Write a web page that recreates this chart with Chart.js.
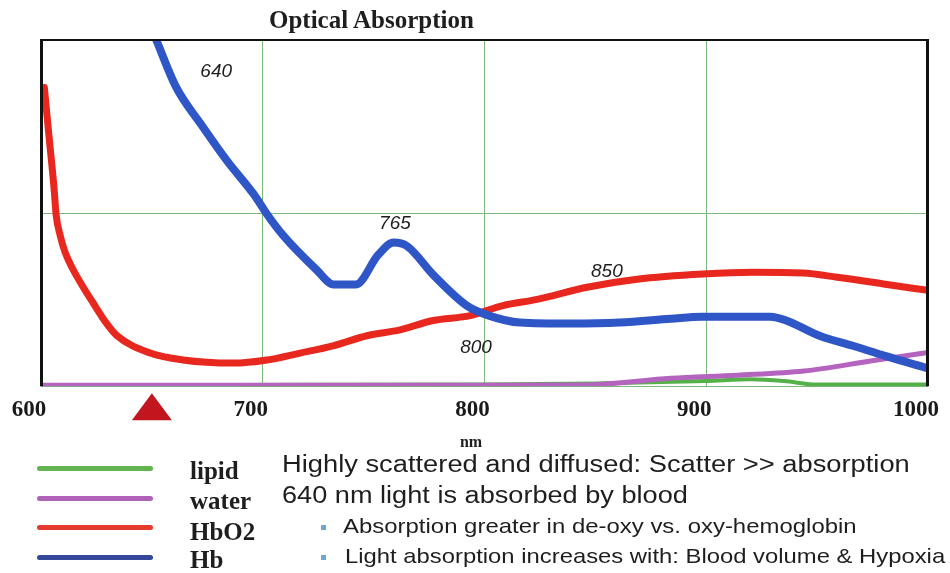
<!DOCTYPE html>
<html>
<head>
<meta charset="utf-8">
<script src="https://cdn.jsdelivr.net/npm/chart.js@4.4.1/dist/chart.umd.min.js"></script>
<style>
  html, body { margin: 0; padding: 0; background: #fff; }
  #wrap { position: relative; width: 950px; height: 573px; overflow: hidden; }
  #absChart { position: absolute; left: 0; top: 0; }
  .txt { position: absolute; white-space: nowrap; color: #1e1e1e; transform-origin: 0 0; }
  .serif { font-family: "Liberation Serif", "Times New Roman", serif; font-weight: bold; }
  .sans { font-family: "Liberation Sans", Arial, sans-serif; }
  .key { position: absolute; left: 37px; width: 116px; height: 5px; border-radius: 3px; }
  .dot { position: absolute; left: 321px; width: 5px; height: 5px; background: #6ea6cf; }
</style>
</head>
<body>
<div id="wrap">
  <canvas id="absChart" width="950" height="573"></canvas>

  <div class="txt serif" style="left:269px; top:7px; font-size:25px; line-height:25px;">Optical Absorption</div>
  <div class="txt serif" style="left:456px; top:434px; width:30px; text-align:center; font-size:16px; line-height:16px;">nm</div>

  <div class="key" style="top:466px; background:#62b451;"></div>
  <div class="key" style="top:496px; background:#b062b8;"></div>
  <div class="key" style="top:525px; background:#e53a2e;"></div>
  <div class="key" style="top:555px; background:#33489b;"></div>
  <div class="txt serif" style="left:190px; top:458px; font-size:25px; line-height:25px;">lipid</div>
  <div class="txt serif" style="left:190px; top:488px; font-size:25px; line-height:25px;">water</div>
  <div class="txt serif" style="left:190px; top:519px; font-size:25px; line-height:25px;">HbO2</div>
  <div class="txt serif" style="left:190px; top:547px; font-size:25px; line-height:25px;">Hb</div>

  <div class="txt sans" style="left:282px; top:452.5px; font-size:23px; line-height:23px; transform:scaleX(1.187);">Highly scattered and diffused: Scatter &gt;&gt; absorption</div>
  <div class="txt sans" style="left:282px; top:483.5px; font-size:23px; line-height:23px; transform:scaleX(1.18);">640 nm light is absorbed by blood</div>
  <div class="dot" style="top:525px;"></div>
  <div class="dot" style="top:555px;"></div>
  <div class="txt sans" style="left:343px; top:515.2px; font-size:21px; line-height:21px; transform:scaleX(1.14);">Absorption greater in de-oxy vs. oxy-hemoglobin</div>
  <div class="txt sans" style="left:345px; top:545.2px; font-size:21px; line-height:21px; transform:scaleX(1.135);">Light absorption increases with: Blood volume &amp; Hypoxia</div>
</div>

<script>
  // x axis ticks (nm)
  const tickNm = [600, 700, 800, 900, 1000];

  // Hb (deoxy) - blue
  const hbNm  = [645, 652, 661, 672, 684, 696, 702, 709, 724, 732, 742, 752, 759, 765, 777, 792, 802, 816, 839, 861, 884, 898, 929, 936, 951, 966, 981, 1000];
  const hbAbs = [111, 100, 86.3, 75.8, 65.0, 55.4, 49.6, 43.7, 33.8, 29.4, 29.4, 37.9, 41.5, 40.5, 32.1, 23.3, 20.4, 18.4, 18.1, 18.4, 19.5, 20.1, 20.1, 19.0, 14.6, 11.7, 8.7, 5.2];

  // HbO2 - red
  const hbo2Nm  = [601.5, 603.6, 605.9, 606.8, 608.6, 610.8, 614.4, 618.5, 623.4, 629.3, 634.3, 649.2, 664.0, 686.6, 701.9, 716.8, 731.7, 747.0, 761.9, 776.8, 793.5, 808.3, 823.7, 846.2, 868.8, 898.5, 921.1, 943.6, 959.0, 981.5, 1000];
  const hbo2Abs = [86.3, 72.3, 57.1, 49.6, 43.7, 38.8, 33.8, 29.2, 24.2, 18.4, 14.6, 9.6, 7.6, 6.7, 7.6, 9.6, 11.7, 14.6, 16.3, 19.0, 20.4, 23.3, 25.1, 28.6, 30.9, 32.4, 32.9, 32.7, 31.5, 29.4, 27.7];

  // water - magenta
  const waterNm  = [600, 700, 800, 846, 884, 914, 944, 974, 1000];
  const waterAbs = [0.3, 0.3, 0.3, 0.4, 2.3, 3.2, 4.4, 7.3, 9.8];

  // lipid - green
  const lipidNm  = [690, 800, 850, 900, 920, 935, 950, 1000];
  const lipidAbs = [0.4, 0.5, 0.8, 1.5, 2.0, 1.5, 0.5, 0.5];

  // peak labels
  const peakText = ['640', '765', '850', '800'];
  const peakNm   = [679, 759.6, 855.2, 796.2];
  const peakAbs  = [90.7, 46.9, 33.2, 11.1];

  // source marker
  const markerNm = 650;

  const toPoints = (xs, ys) => xs.map((x, i) => ({ x: x, y: ys[i] }));

  const framePlugin = {
    id: 'frame',
    afterDatasetsDraw(chart) {
      const { ctx, chartArea: a, scales } = chart;
      ctx.save();
      // chart border
      ctx.strokeStyle = '#111';
      ctx.lineWidth = 2;
      ctx.beginPath();
      ctx.moveTo(a.left, a.top);
      ctx.lineTo(a.right, a.top);
      ctx.stroke();
      ctx.lineWidth = 3;
      ctx.beginPath();
      ctx.moveTo(a.left + 0.5, a.top - 1);
      ctx.lineTo(a.left + 0.5, a.bottom);
      ctx.moveTo(a.right - 0.5, a.top - 1);
      ctx.lineTo(a.right - 0.5, a.bottom);
      ctx.stroke();

      // peak wavelength labels
      ctx.fillStyle = '#1e1e1e';
      ctx.font = 'italic 19px "Liberation Sans", Arial, sans-serif';
      ctx.textAlign = 'center';
      ctx.textBaseline = 'middle';
      peakText.forEach((t, i) => {
        ctx.fillText(t, scales.x.getPixelForValue(peakNm[i]), scales.y.getPixelForValue(peakAbs[i]));
      });

      // red marker under the axis
      const mx = scales.x.getPixelForValue(markerNm);
      ctx.fillStyle = '#c1161d';
      ctx.beginPath();
      ctx.moveTo(mx, a.bottom + 7);
      ctx.lineTo(mx + 20, a.bottom + 34);
      ctx.lineTo(mx - 20, a.bottom + 34);
      ctx.closePath();
      ctx.fill();
      ctx.restore();
    }
  };

  const ctx = document.getElementById('absChart').getContext('2d');
  new Chart(ctx, {
    type: 'line',
    data: {
      datasets: [
        { label: 'Hb', data: toPoints(hbNm, hbAbs), borderColor: '#2f56c6', borderWidth: 8 },
        { label: 'HbO2', data: toPoints(hbo2Nm, hbo2Abs), borderColor: '#e8281e', borderWidth: 7 },
        { label: 'water', data: toPoints(waterNm, waterAbs), borderColor: '#b464be', borderWidth: 5 },
        { label: 'lipid', data: toPoints(lipidNm, lipidAbs), borderColor: '#53b148', borderWidth: 4 }
      ]
    },
    options: {
      responsive: false,
      animation: false,
      devicePixelRatio: 1,
      layout: { padding: { left: 41, right: 22, top: 40, bottom: 140.1 } },
      elements: {
        point: { radius: 0 },
        line: { cubicInterpolationMode: 'monotone', borderCapStyle: 'round', borderJoinStyle: 'round' }
      },
      plugins: { legend: { display: false }, tooltip: { enabled: false } },
      scales: {
        x: {
          type: 'linear',
          min: tickNm[0],
          max: tickNm[tickNm.length - 1],
          afterBuildTicks: (scale) => { scale.ticks = tickNm.map(v => ({ value: v })); },
          afterFit: (scale) => { scale.paddingLeft = 0; scale.paddingRight = 0; },
          grid: { color: '#7cb87c', lineWidth: 1, drawTicks: false },
          border: { display: false },
          ticks: {
            padding: 9.5,
            labelOffset: -12,
            color: '#1a1a1a',
            callback: (v) => String(v),
            font: { family: '"Liberation Serif", "Times New Roman", serif', size: 23, weight: 'bold' }
          }
        },
        y: {
          min: 0,
          max: 100,
          ticks: { display: false, stepSize: 50 },
          grid: { color: '#7cb87c', lineWidth: 1, drawTicks: false },
          border: { display: false }
        }
      }
    },
    plugins: [framePlugin]
  });
</script>
</body>
</html>
